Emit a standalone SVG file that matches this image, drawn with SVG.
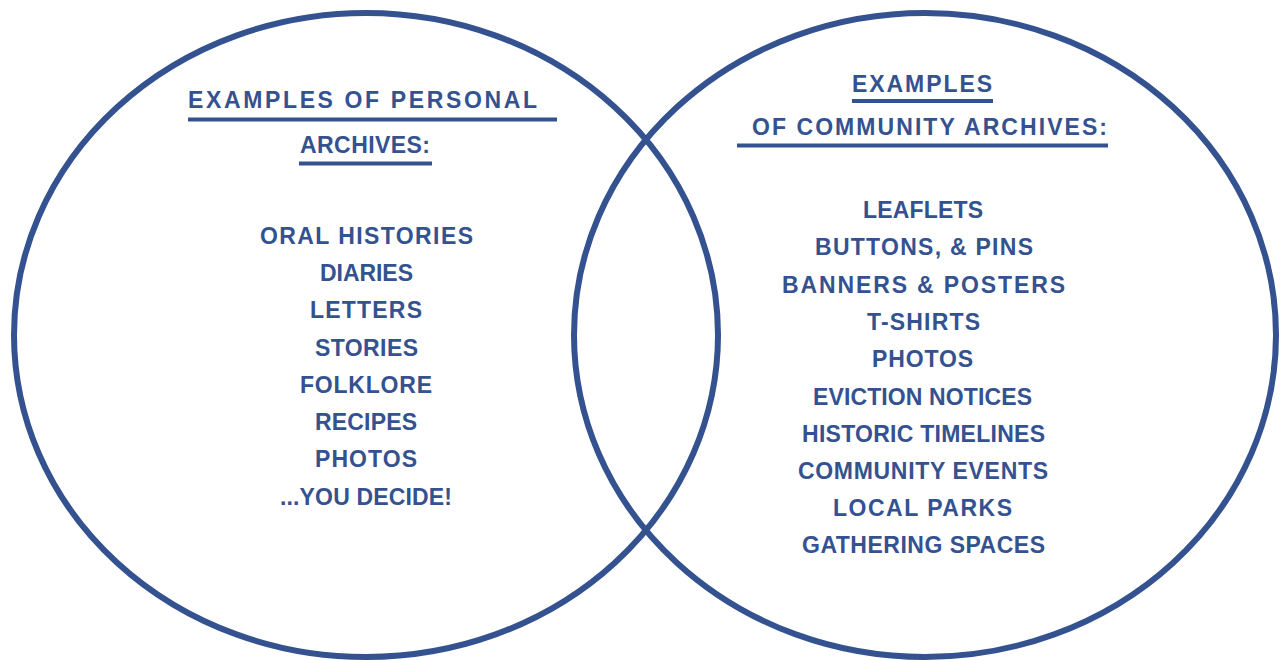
<svg xmlns="http://www.w3.org/2000/svg" width="1281" height="660" viewBox="0 0 1281 660">
  <style>
    .ring { fill: none; stroke: #34528f; stroke-width: 6; }
    .rule { stroke: #34528f; stroke-width: 4; }
    text { font-family: "Liberation Sans", Arial, sans-serif; font-weight: bold; font-size: 23px; fill: #34528f; }
  </style>
  <rect width="1281" height="660" fill="#ffffff"/>

  <!-- personal archives circle -->
  <g id="personal">
    <ellipse class="ring" cx="366" cy="335" rx="352" ry="322"/>
    <text x="188" y="108" textLength="349" lengthAdjust="spacing">EXAMPLES OF PERSONAL</text>
    <line class="rule" x1="188" y1="119.5" x2="557" y2="119.5"/>
    <text x="300" y="153" textLength="130" lengthAdjust="spacing">ARCHIVES:</text>
    <line class="rule" x1="299" y1="163.5" x2="432" y2="163.5"/>
    <text x="260" y="244" textLength="213" lengthAdjust="spacing">ORAL HISTORIES</text>
    <text x="320" y="281" textLength="93" lengthAdjust="spacing">DIARIES</text>
    <text x="310" y="318" textLength="112" lengthAdjust="spacing">LETTERS</text>
    <text x="315" y="356" textLength="103" lengthAdjust="spacing">STORIES</text>
    <text x="300" y="393" textLength="132" lengthAdjust="spacing">FOLKLORE</text>
    <text x="315" y="430" textLength="102" lengthAdjust="spacing">RECIPES</text>
    <text x="315" y="467" textLength="102" lengthAdjust="spacing">PHOTOS</text>
    <text x="280" y="505" textLength="172" lengthAdjust="spacing">...YOU DECIDE!</text>
  </g>

  <!-- community archives circle -->
  <g id="community">
    <ellipse class="ring" cx="925" cy="335" rx="351" ry="322"/>
    <text x="852" y="92" textLength="140" lengthAdjust="spacing">EXAMPLES</text>
    <line class="rule" x1="852" y1="101" x2="993" y2="101"/>
    <text x="752" y="135" textLength="355" lengthAdjust="spacing">OF COMMUNITY ARCHIVES:</text>
    <line class="rule" x1="737" y1="145.5" x2="1108" y2="145.5"/>
    <text x="863" y="218" textLength="120" lengthAdjust="spacing">LEAFLETS</text>
    <text x="815" y="255" textLength="218" lengthAdjust="spacing">BUTTONS, &amp; PINS</text>
    <text x="782" y="293" textLength="283" lengthAdjust="spacing">BANNERS &amp; POSTERS</text>
    <text x="867" y="330" textLength="113" lengthAdjust="spacing">T-SHIRTS</text>
    <text x="872" y="367" textLength="101" lengthAdjust="spacing">PHOTOS</text>
    <text x="813" y="405" textLength="219" lengthAdjust="spacing">EVICTION NOTICES</text>
    <text x="802" y="442" textLength="243" lengthAdjust="spacing">HISTORIC TIMELINES</text>
    <text x="798" y="479" textLength="250" lengthAdjust="spacing">COMMUNITY EVENTS</text>
    <text x="833" y="516" textLength="179" lengthAdjust="spacing">LOCAL PARKS</text>
    <text x="802" y="553" textLength="243" lengthAdjust="spacing">GATHERING SPACES</text>
  </g>
</svg>
